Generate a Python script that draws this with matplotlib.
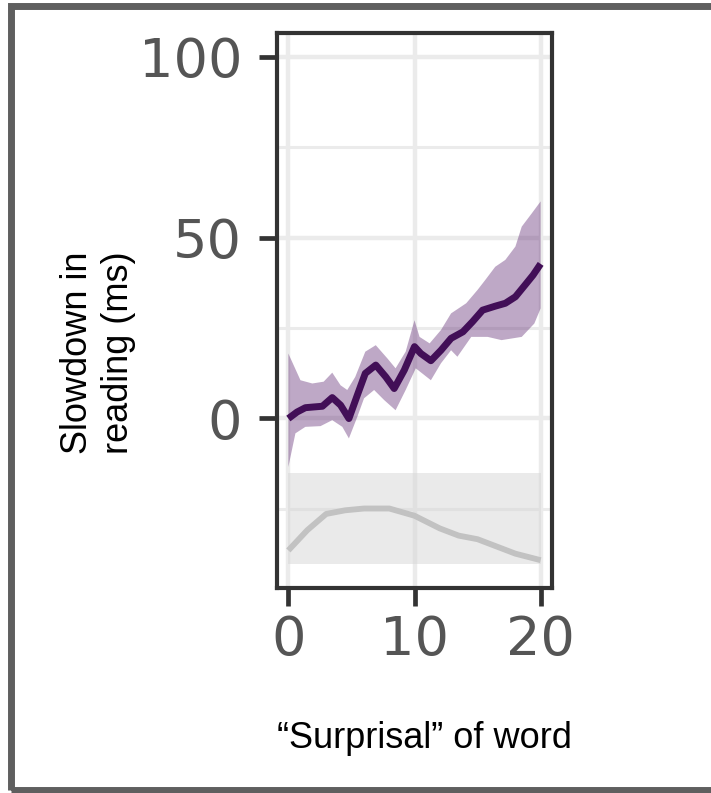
import matplotlib as mpl
mpl.use('Agg')
import matplotlib.pyplot as plt
from matplotlib.patches import Rectangle

# surprisal effect curve (purple)
curve_x = [0, 0.69, 1.35, 2.0, 2.7, 3.48, 4.14, 4.8, 5.47, 6.1, 6.93, 7.73, 8.39, 9.19,
           10.0, 10.5, 11.3, 12.1, 12.9, 13.84, 14.6, 15.4, 16.4, 17.2, 18.0, 18.75, 19.4, 20.0]
curve_y = [-0.1, 1.7, 2.9, 3.1, 3.3, 5.7, 3.6, -0.1, 6.4, 12.4, 14.7, 11.4, 8.2, 13.3,
           19.8, 17.9, 15.9, 18.8, 22.1, 23.9, 26.7, 29.9, 31.0, 31.8, 33.6, 36.8, 39.6, 42.7]

# confidence ribbon, upper and lower edge
hi_x = [0, 0.96, 1.9, 2.8, 3.48, 4.14, 4.67, 5.3, 6.1, 6.93, 7.86, 8.5, 9.3, 10.0,
        10.4, 11.2, 12.1, 12.9, 14.1, 15.0, 15.6, 16.4, 17.2, 18.0, 18.5, 19.3, 20]
hi_y = [17.9, 10.5, 9.6, 10.1, 12.6, 9.1, 7.8, 11.4, 18.4, 20.2, 16.5, 13.8, 18.4, 27.1,
        22.5, 20.7, 24.4, 29, 31.8, 35.5, 38.2, 41.9, 43.8, 47.5, 53, 56.7, 60]
lo_x = [0, 0.56, 1.35, 2.55, 3.48, 4.28, 4.8, 5.47, 6.0, 6.8, 7.6, 8.5, 9.3, 10.1,
        11.3, 12.1, 12.9, 13.4, 14.5, 15.8, 16.9, 18.5, 19.5, 20]
lo_y = [-13.5, -4.2, -2.4, -2.2, -0.55, -2.4, -5.6, 0.4, 5.5, 7.8, 5.0, 2.2, 7.8, 13.8,
        10.5, 15.2, 18.8, 17.0, 22.5, 22.5, 21.6, 22.5, 26.2, 30.4]

# density strip underneath
strip_x = [0, 20]
strip_y = [-40.4, -15.2]
dens_x = [0, 1.5, 3, 4.5, 6, 8, 10, 12, 13.5, 15, 16.5, 18, 20]
dens_y = [-36.6, -31, -26.5, -25.5, -25, -25, -27, -30.5, -32.5, -33.5, -35.5, -37.5, -39.3]

xticks = [0, 10, 20]
yticks = [0, 50, 100]
yminor = [-25, 25, 75]

W, H = 711, 793
fig = plt.figure(figsize=(W / 100, H / 100), dpi=100)
ax = fig.add_axes([277 / W, 1 - 588 / H, (552 - 277) / W, (588 - 33) / H])

ax.set_xlim(-0.9, 20.9)
ax.set_ylim(-47, 106.6)
ax.set_xticks(xticks)
ax.set_yticks(yticks)
ax.set_yticks(yminor, minor=True)
ax.grid(True, which='major', color='#ebebeb', lw=3.2, zorder=0)
ax.grid(True, which='minor', axis='y', color='#ebebeb', lw=2.2, zorder=0)
ax.set_axisbelow(True)

ax.fill_between(strip_x, strip_y[0], strip_y[1], color='#d6d6d6', alpha=0.5, lw=0, zorder=1)
ax.plot(dens_x, dens_y, color='#c2c2c2', lw=4.2, solid_capstyle='butt',
        solid_joinstyle='round', zorder=2)

ax.fill(hi_x + lo_x[::-1], hi_y + lo_y[::-1], color='#5d2671', alpha=0.4, lw=0, zorder=3)
ax.plot(curve_x, curve_y, color='#420f57', lw=5, solid_joinstyle='round',
        solid_capstyle='butt', zorder=4)

for s in ax.spines.values():
    s.set_color('#333333')
    s.set_linewidth(3)
ax.tick_params(which='major', length=13, width=3.4, color='#333333',
               labelsize=39, labelcolor='#555555')
ax.tick_params(axis='y', which='minor', length=0)
ax.tick_params(axis='y', pad=12)
ax.tick_params(axis='x', pad=6)

fig.text(98 / W, 1 - 353 / H, 'Slowdown in\nreading (ms)', rotation=90,
         ha='center', va='center', fontsize=26, family='Liberation Sans',
         linespacing=1.2)
fig.text(424 / W, 1 - 738 / H, '\u201cSurprisal\u201d of word', ha='center', va='center',
         fontsize=26, family='Liberation Sans')

# frame of the popup the chart sits in
fig.patches.append(Rectangle((11 / W, 1 - 790 / H), 720 / W, (790 - 6) / H,
                             transform=fig.transFigure, fill=False,
                             ec='#5f5f5f', lw=5))

fig.savefig('out.png', dpi=100)
